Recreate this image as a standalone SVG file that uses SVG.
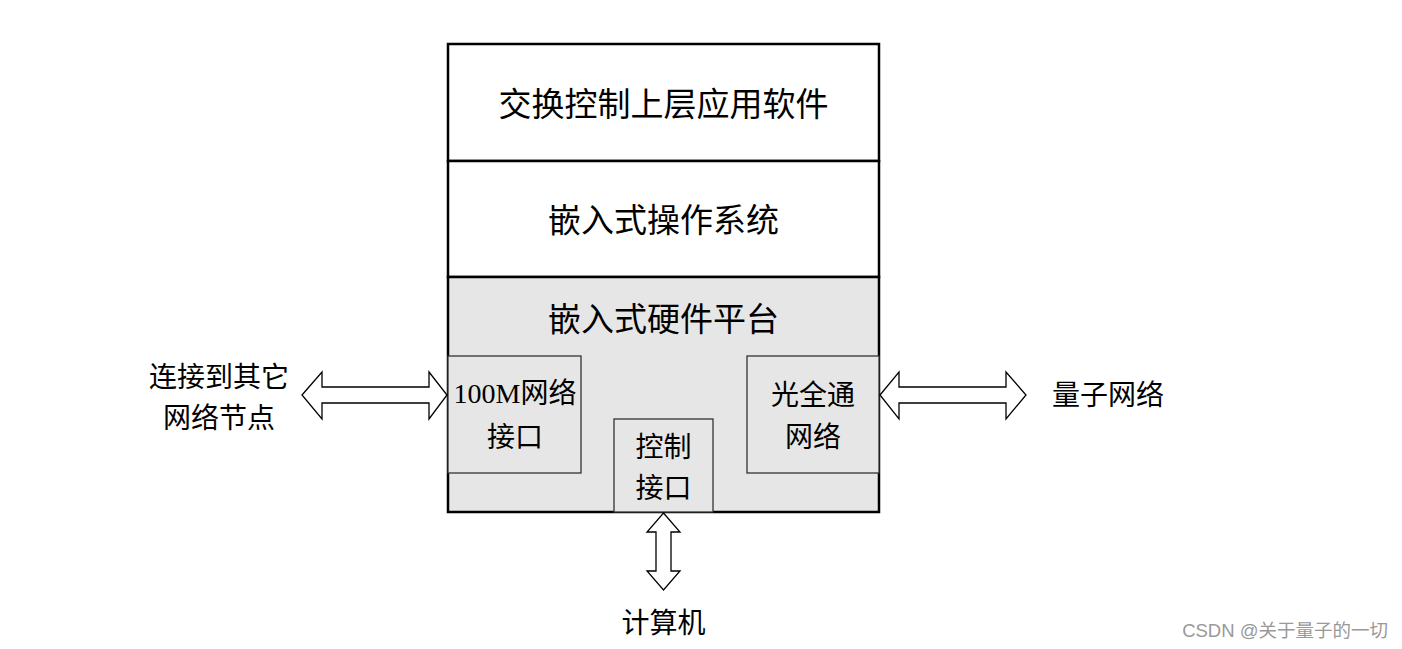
<svg xmlns="http://www.w3.org/2000/svg" width="1402" height="649" viewBox="0 0 1402 649">
<style>
.t{font-family:"Liberation Serif","Noto Sans CJK SC",serif;fill:#000;text-anchor:middle}
.big{font-size:33px}
.md{font-size:28px}
.sub{fill:#e6e6e6;stroke:#333;stroke-width:1.3}
.arr{fill:#fff;stroke:#000;stroke-width:1.3;stroke-linejoin:miter}
.wm{font-family:"Liberation Sans","Noto Sans CJK SC",sans-serif;font-size:18.5px;fill:#999;text-anchor:end}
</style>
<rect width="1402" height="649" fill="#fff"/>
<g id="app">
<rect x="448" y="44" width="431" height="117" fill="#fff" stroke="#000" stroke-width="2.5"/>
<text class="t big" x="663.5" y="116">交换控制上层应用软件</text>
</g>
<g id="os">
<rect x="448" y="161" width="431" height="116" fill="#fff" stroke="#000" stroke-width="2.5"/>
<text class="t big" x="663.5" y="232">嵌入式操作系统</text>
</g>
<g id="hw">
<rect x="448" y="277" width="431" height="235" fill="#e6e6e6" stroke="#000" stroke-width="2.5"/>
<text class="t big" x="663.5" y="331">嵌入式硬件平台</text>
</g>
<g id="net100m">
<rect class="sub" x="448" y="356" width="133" height="117"/>
<text class="t md" x="515" y="403">100M网络</text>
<text class="t md" x="515" y="447">接口</text>
</g>
<g id="ctrl">
<rect class="sub" x="614" y="419" width="99" height="93"/>
<text class="t md" x="663.5" y="457">控制</text>
<text class="t md" x="663.5" y="498">接口</text>
</g>
<g id="optical">
<rect class="sub" x="747" y="356" width="132" height="117"/>
<text class="t md" x="813" y="405">光全通</text>
<text class="t md" x="813" y="447">网络</text>
</g>
<g id="connectors">
<polygon class="arr" points="302,395 322,372 322,387 429,387 429,372 447,395 429,419 429,403 322,403 322,419"/>
<polygon class="arr" points="880,395 899,372 899,387 1006,387 1006,372 1026,395 1006,419 1006,403 899,403 899,419"/>
<polygon class="arr" points="663.5,513 680,532 671,532 671,571 680,571 663.5,590 647,571 656,571 656,532 647,532"/>
</g>
<g id="labels">
<text class="t md" x="219" y="387">连接到其它</text>
<text class="t md" x="219" y="428">网络节点</text>
<text class="t md" x="1108" y="405">量子网络</text>
<text class="t md" x="663.5" y="633">计算机</text>
</g>
<text class="wm" x="1388" y="637">CSDN @关于量子的一切</text>
</svg>
